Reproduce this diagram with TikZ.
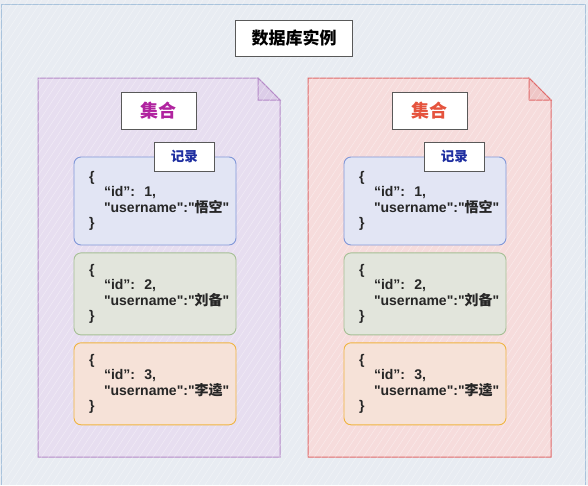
\documentclass[tikz,border=0pt]{standalone}
\usepackage{fontspec}
\setmainfont{Liberation Sans}[Ligatures=TeXOff]
\newfontfamily\cjk{Noto Sans CJK SC}
\usetikzlibrary{positioning}

\definecolor{bgblue}{HTML}{E8ECF2}
\definecolor{framec}{HTML}{A9C3DC}
\definecolor{purpledoc}{HTML}{B58AC8}
\definecolor{purplefill}{HTML}{E7DEF0}
\definecolor{purplefold}{HTML}{DCCDE8}
\definecolor{reddoc}{HTML}{E06A6A}
\definecolor{redfill}{HTML}{F6DCDC}
\definecolor{redfold}{HTML}{EFC6C6}
\definecolor{recblue}{HTML}{8097D8}
\definecolor{recbluefill}{HTML}{E2E5F4}
\definecolor{recgreen}{HTML}{A5BF94}
\definecolor{recgreenfill}{HTML}{E2E5DC}
\definecolor{recorange}{HTML}{F0B440}
\definecolor{recorangefill}{HTML}{F6E2D8}
\definecolor{setpurple}{HTML}{B0239F}
\definecolor{setred}{HTML}{E5533D}
\definecolor{labelblue}{HTML}{1E2EA0}

\begin{document}
\begin{tikzpicture}[x=1pt,y=-1pt,font=\bfseries,
  label box/.style = {draw=black!65, fill=white, line width=0.7pt},
  rec/.style = {draw, rounded corners=7pt, line width=0.9pt, align=left, text=black!85,
    text width=132pt, inner xsep=15pt, inner ysep=4pt, minimum height=82pt,
    font=\bfseries\fontsize{14}{15.5}\selectfont},
  blue rec/.style = {rec, draw=recblue, fill=recbluefill, minimum height=88pt},
  green rec/.style = {rec, draw=recgreen, fill=recgreenfill},
  orange rec/.style = {rec, draw=recorange, fill=recorangefill}]
\useasboundingbox (0,0) rectangle (588,485);
\fill[bgblue] (0,0) rectangle (588,485);
\draw[framec, line width=1pt] (1.5,485) -- (1.5,4) -- (585,4) -- (585,485);

% two collections
\draw[purpledoc, fill=purplefill, line width=1pt] (38,78) -- (258,78) -- (280,100) -- (280,457) -- (38,457) -- cycle;
\draw[purpledoc, fill=purplefold, line width=1pt] (258,78) -- (258,100) -- (280,100) -- cycle;
\draw[reddoc, fill=redfill, line width=1pt] (308,78) -- (529,78) -- (551,100) -- (551,457) -- (308,457) -- cycle;
\draw[reddoc, fill=redfold, line width=1pt] (529,78) -- (529,100) -- (551,100) -- cycle;

% hatching
\begin{scope}
\clip (0,0) rectangle (588,485);
\foreach \i in {-320,-313,...,590}
  \draw[white, line width=0.5pt, opacity=0.4] (\i,485) -- ++(320,-485);
\end{scope}

\node[label box, minimum width=117pt, minimum height=36pt, font=\bfseries\cjk\fontsize{17}{17}\selectfont] (title) at (294,38) {数据库实例};

\node[label box, minimum width=75pt, minimum height=37pt, text=setpurple, font=\bfseries\cjk\fontsize{18}{18}\selectfont] (setl) at (158.5,110.5) {集合};
\node[label box, minimum width=75pt, minimum height=37pt, text=setred, font=\bfseries\cjk\fontsize{18}{18}\selectfont] (setr) at (429.5,110.5) {集合};

\node[blue rec] (l1) at (155,201) {\{\\\hspace*{15pt}“id”:\ \ 1,\\\hspace*{15pt}\mbox{"username":"{\cjk 悟空}"}\\\}};
\node[green rec] (l2) [below=7pt of l1] {\{\\\hspace*{15pt}“id”:\ \ 2,\\\hspace*{15pt}\mbox{"username":"{\cjk 刘备}"}\\\}};
\node[orange rec] (l3) [below=7pt of l2] {\{\\\hspace*{15pt}“id”:\ \ 3,\\\hspace*{15pt}\mbox{"username":"{\cjk 李逵}"}\\\}};

\node[blue rec] (r1) at (425,201) {\{\\\hspace*{15pt}“id”:\ \ 1,\\\hspace*{15pt}\mbox{"username":"{\cjk 悟空}"}\\\}};
\node[green rec] (r2) [below=7pt of r1] {\{\\\hspace*{15pt}“id”:\ \ 2,\\\hspace*{15pt}\mbox{"username":"{\cjk 刘备}"}\\\}};
\node[orange rec] (r3) [below=7pt of r2] {\{\\\hspace*{15pt}“id”:\ \ 3,\\\hspace*{15pt}\mbox{"username":"{\cjk 李逵}"}\\\}};

\node[label box, minimum width=60pt, minimum height=29pt, text=labelblue, font=\bfseries\cjk\fontsize{13.5}{13.5}\selectfont] (recl) at ([xshift=-52pt]l1.north east) {记录};
\node[label box, minimum width=60pt, minimum height=29pt, text=labelblue, font=\bfseries\cjk\fontsize{13.5}{13.5}\selectfont] (recr) at ([xshift=-52pt]r1.north east) {记录};
\end{tikzpicture}
\end{document}
